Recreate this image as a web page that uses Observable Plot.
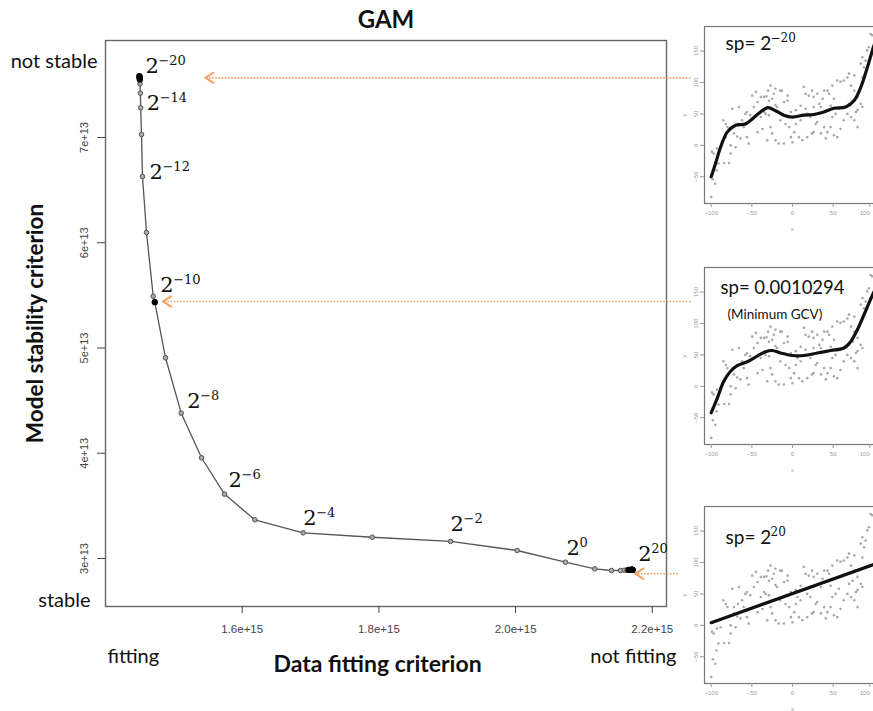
<!DOCTYPE html>
<html><head><meta charset="utf-8">
<script src="https://cdn.jsdelivr.net/npm/d3@7"></script>
<script src="https://cdn.jsdelivr.net/npm/@observablehq/plot@0.6"></script>
<style>
html,body{margin:0;padding:0;background:#fff;overflow:hidden;}
#wrap{position:relative;width:873px;height:711px;overflow:hidden;background:#fff;}
.pane{position:absolute;}
.pane svg{max-width:none !important;display:block;}
</style></head><body><div id="wrap"></div>
<script>
// ---------- main chart data (GAM smoothing-parameter path) ----------
const logSp = [-20,-19,-18,-17,-16,-15,-14,-13,-12,-11,-10,-9.924,-9,-8,-7,-6,-5,-4,-3,-2,-1,0,1,2,3,4,5,6,7,8,9,10,11,12,13,14,15,16,17,18,19,20];
const dataFit = [1.4496e15,1.4498e15,1.4500e15,1.4502e15,1.4505e15,1.4510e15,1.4515e15,1.4527e15,1.4541e15,1.4600e15,1.4698e15,1.4721e15,1.4878e15,1.5108e15,1.5405e15,1.5741e15,1.6184e15,1.6892e15,1.7902e15,1.9048e15,2.0023e15,2.0730e15,2.1159e15,2.1403e15,2.1535e15,2.1593e15,2.1630e15,2.1652e15,2.1667e15,2.1680e15,2.1690e15,2.1697e15,2.1702e15,2.1705e15,2.1706e15,2.1707e15,2.1707e15,2.1708e15,2.1708e15,2.1708e15,2.1708e15,2.1708e15];
const stability = [7.584e13,7.575e13,7.565e13,7.551e13,7.510e13,7.421e13,7.282e13,7.029e13,6.629e13,6.097e13,5.492e13,5.435e13,4.907e13,4.381e13,3.957e13,3.612e13,3.368e13,3.244e13,3.202e13,3.162e13,3.076e13,2.965e13,2.902e13,2.886e13,2.886e13,2.888e13,2.890e13,2.891e13,2.892e13,2.892e13,2.892e13,2.892e13,2.892e13,2.892e13,2.892e13,2.892e13,2.892e13,2.892e13,2.892e13,2.892e13,2.892e13,2.892e13];
const xTicks = [1.6e15,1.8e15,2.0e15,2.2e15];
const yTicks = [3e13,4e13,5e13,6e13,7e13];
const labelExps = [-20,-14,-12,-10,-8,-6,-4,-2,0,20];
// arrows linking the panels to the path (in data units)
const arrowY = [7.567e13,5.442e13,2.855e13];
const arrowTipX = [1.5463e15,1.4844e15,2.1754e15];
const arrowTailX = [2.2559e15,2.2559e15,2.2373e15];

// ---------- panel data (same sample in each panel) ----------
const scatX = [-100,-98,-95,-93.5,-91,-97,-99,-93,-88.5,-85,-82,-84,-78,-76,-76,-72,-74,-72,-68,-64,-67,-62,-60,-56,-54,-58,-52,-47.5,-49.5,-45,-39,-35,-32,-30,-27,-25,-21,-15,-13,-6,-6,-39,-37,-35,-33,-29,-25,-31,-21,-19,-17,-10.5,-15,-8.5,-2,4,6,10,8,12,2,0,14,16,20,24,26,30.5,33,35,39,43,45,49,51,55,59,63,67.5,72,76,74,80,84,86,18,22,28.5,30.5,35,39,43,47,51,55,59,63,67.5,72,78,80,18,24,41,86,88,90,92,94,96,98,86,84,76,69.5,-43,-29,-23,-10.5,-4,4,10,16,26,37,47,53,57,69.5,76,80,-82,-80,-70,-66,-56,-43,-27,-21,-2,26,49];
const scatY = [-82,-54,-61,-40,-29,-13,-10,-5,-3,40,34,-28,-28,-13,0,19,58,29,14,11,34,40,29,13,3,50,48,61,79,85,77,77,78,87,95,74,90,87,87,79,71,45,26,53,50,48,19,8,64,61,3,3,40,34,53,56,45,40,13,8,21,5,93,82,79,87,77,82,66,61,87,87,82,95,74,103,101,103,108,95,87,71,77,66,61,50,45,34,37,19,29,21,29,16,13,26,40,50,45,53,56,13,19,11,108,124,135,151,156,177,175,140,130,111,114,69,71,82,69,29,34,63,58,61,74,63,50,58,66,40,29,13,29,-3,61,53,21,29,8,13,21,45];
// smooth fit with sp = 2^-20
const fit1X = [-100,-94.7,-88.5,-80.3,-70.1,-57.8,-49.5,-39.3,-30.3,-20.8,-10.6,-0.3,14,26.4,38.7,51,65.4,75.6,83.9,92.1,99.5,104];
const fit1Y = [-50,-29,-3,21,32,34,42,53,60,55,48,45,48,49,53,59,61,71,92,124,156,172];
// smooth fit with sp = 0.0010294 (minimum GCV)
const fit2X = [-100,-92.6,-84.5,-76.2,-68,-55.7,-43.4,-33.1,-24.9,-14.7,-0.3,14,30.5,46.9,63.3,71.5,79.8,88,98.3,104];
const fit2Y = [-42,-19,8,24,33,39,48,55,57,53,49,49,53,57,61,71,90,114,145,160];
// linear fit with sp = 2^20
const fit3X = [-100,104];
const fit3Y = [4.3,98.6];
const panelXTicks = [-100,-50,0,50];
const panelXEdgeTick = [100];
const panelYTicks = [-50,0,50,100,150];

// ---------- build tables ----------
const path = logSp.map((k,i)=>({k, x:dataFit[i], y:stability[i]}));
const dark = path.filter(d => d.k <= -17 || d.k >= 6 || d.k === -9.924);
const labelNudge = {"-20":[6,-3],"-14":[6,2],"-12":[7,2],"-10":[7,-4],"-8":[6,-5],"-6":[4,-7],"-4":[0,-8],"-2":[0,-10],"0":[1,-7],"20":[6,-9]};
const expText = k => (k < 0 ? "\u2212" + Math.abs(k) : String(k));
const labelRows = labelExps.map(k => {const p = path.find(d=>d.k===k); return {...p, e:expText(k), dx:labelNudge[k][0], dy:labelNudge[k][1]};});
const arrows = arrowY.map((y,i)=>({y, tip:arrowTipX[i], tail:arrowTailX[i]}));

const serif = "DejaVu Serif";
const sans = "Lato";
const orange = "#f3a062";
// open chevron "<" whose point sits at the dot position
const chevron = {draw(context, size){ const s = Math.sqrt(size/Math.PI); context.moveTo(s*0.95, -s*0.62); context.lineTo(0, 0); context.lineTo(s*0.95, s*0.62); }};

const baseMarks = [];
labelRows.forEach(r => {
  baseMarks.push(Plot.text([r], {x:"x", y:"y", text:()=>"2", dx:r.dx, dy:r.dy, textAnchor:"start", lineAnchor:"bottom", fontFamily:serif, fontSize:21, fill:"#111"}));
  baseMarks.push(Plot.text([r], {x:"x", y:"y", text:"e", dx:r.dx+13, dy:r.dy-8, textAnchor:"start", lineAnchor:"bottom", fontFamily:serif, fontSize:13, fill:"#111"}));
});

const main = Plot.plot({
  width: 873, height: 711,
  marginLeft: 105, marginRight: 207, marginTop: 40, marginBottom: 105,
  style: {fontFamily: "Liberation Sans", background: "white", overflow: "visible"},
  x: {domain: [1.4e15, 2.2208e15], label: null},
  y: {domain: [2.5439e13, 7.9216e13], label: null},
  marks: [
    Plot.frame({stroke:"#666", strokeWidth:1.4}),
    Plot.axisX({ticks: xTicks, tickSize: 7, tickPadding: 11, tickFormat: d => d.toExponential(1), fontSize: 11.5, color:"#444", label: null}),
    Plot.axisY({ticks: yTicks, tickSize: 8, tickPadding: 10, tickRotate: -90, tickFormat: d => d.toExponential(0), fontSize: 11, color:"#444", label: null}),
    Plot.link(arrows, {x1:"tail", x2:"tip", y1:"y", y2:"y", stroke: orange, strokeWidth: 1.7, strokeDasharray: "1.6 1.6"}),
    Plot.dot(arrows, {x:"tip", y:"y", symbol: chevron, r: 9, stroke: orange, fill: "none", strokeWidth: 2}),
    Plot.line(path, {x:"x", y:"y", stroke:"#555", strokeWidth:1.3}),
    Plot.dot(path, {x:"x", y:"y", r:2.3, stroke:"#555", fill:"#aaa", strokeWidth:1}),
    Plot.dot(dark, {x:"x", y:"y", r:2.4, fill:"#000", stroke:"#000"}),
    ...baseMarks,
    Plot.text(["GAM"], {frameAnchor:"top", text:d=>d, dy:-13, lineAnchor:"bottom", fontFamily:sans, fontWeight:"bold", fontSize:24, fill:"#111"}),
    Plot.text(["not stable"], {frameAnchor:"top-left", text:d=>d, dx:-8, dy:27, textAnchor:"end", lineAnchor:"bottom", fontFamily:sans, fontSize:20, fill:"#111"}),
    Plot.text(["stable"], {frameAnchor:"bottom-left", text:d=>d, dx:-15, dy:0, textAnchor:"end", lineAnchor:"bottom", fontFamily:sans, fontSize:20, fill:"#111"}),
    Plot.text(["fitting"], {frameAnchor:"bottom-left", text:d=>d, dx:2, dy:56, textAnchor:"start", lineAnchor:"bottom", fontFamily:sans, fontSize:20, fill:"#111"}),
    Plot.text(["not fitting"], {frameAnchor:"bottom-right", text:d=>d, dx:10, dy:56, textAnchor:"end", lineAnchor:"bottom", fontFamily:sans, fontSize:20, fill:"#111"}),
    Plot.text(["Data fitting criterion"], {frameAnchor:"bottom-left", text:d=>d, dx:168, dy:65, textAnchor:"start", lineAnchor:"bottom", fontFamily:sans, fontWeight:"bold", fontSize:23, fill:"#111"}),
    Plot.text(["Model stability criterion"], {frameAnchor:"left", text:d=>d, dx:-70, rotate:-90, textAnchor:"middle", lineAnchor:"middle", fontFamily:sans, fontWeight:"bold", fontSize:22.5, fill:"#111"})
  ]
});

const wrap = document.getElementById("wrap");
function addPane(el, left, top){ const d = document.createElement("div"); d.className="pane"; d.style.left=left+"px"; d.style.top=top+"px"; d.appendChild(el); wrap.appendChild(d); }
addPane(main, 0, 0);

const pts = scatX.map((x,i)=>({x, y:scatY[i]}));
function panel(fx, fy, textMarks){
  const fit = fx.map((x,i)=>({x, y:fy[i]}));
  return Plot.plot({
    width: 202, height: 209,
    marginLeft: 26, marginRight: 0, marginTop: 2, marginBottom: 30,
    style: {fontFamily:"Liberation Sans", background:"transparent", overflow:"visible"},
    x: {domain:[-108.25,108.25], label:null},
    y: {domain:[-92.5,189], label:null},
    marks: [
      Plot.frame({stroke:"#777", strokeWidth:1.2, fill:"white"}),
      Plot.axisX({ticks: panelXTicks, tickSize:4, tickPadding:3, fontSize:6, color:"#999", label:null}),
      Plot.axisX({ticks: panelXEdgeTick, tickSize:4, tickPadding:3, fontSize:6, color:"#999", textAnchor:"end", dx:-4, label:null}),
      Plot.axisY({ticks: panelYTicks, tickSize:4, tickPadding:3, tickRotate:-90, fontSize:6, color:"#999", label:null}),
      Plot.text(["x"], {frameAnchor:"bottom", text:d=>d, dy:27, lineAnchor:"bottom", fontSize:6, fill:"#999"}),
      Plot.text(["y"], {frameAnchor:"left", text:d=>d, dx:-20, rotate:-90, textAnchor:"middle", fontSize:6, fill:"#999"}),
      Plot.dot(pts, {x:"x", y:"y", r:1.3, fill:"#a8a8a8"}),
      Plot.line(fit, {x:"x", y:"y", stroke:"#111", strokeWidth:3.2, curve:"catmull-rom"}),
      ...textMarks
    ]
  });
}
const t = (s, o) => Plot.text([s], {frameAnchor:"top-left", text:d=>d, textAnchor:"start", lineAnchor:"bottom", fontFamily:sans, fill:"#111", ...o});
addPane(panel(fit1X, fit1Y, [
  t("sp= 2", {dx:21, dy:23, fontSize:19}),
  t("\u221220", {dx:66, dy:15, fontSize:12, fontFamily:serif})
]), 678, 24);
addPane(panel(fit2X, fit2Y, [
  t("sp= 0.0010294", {dx:16, dy:26, fontSize:18.5}),
  t("(Minimum GCV)", {dx:23, dy:51, fontSize:13.5})
]), 678, 264.7);
addPane(panel(fit3X, fit3Y, [
  t("sp= 2", {dx:21, dy:37, fontSize:19}),
  t("20", {dx:66, dy:29, fontSize:12, fontFamily:serif})
]), 678, 503.7);
</script></body></html>
